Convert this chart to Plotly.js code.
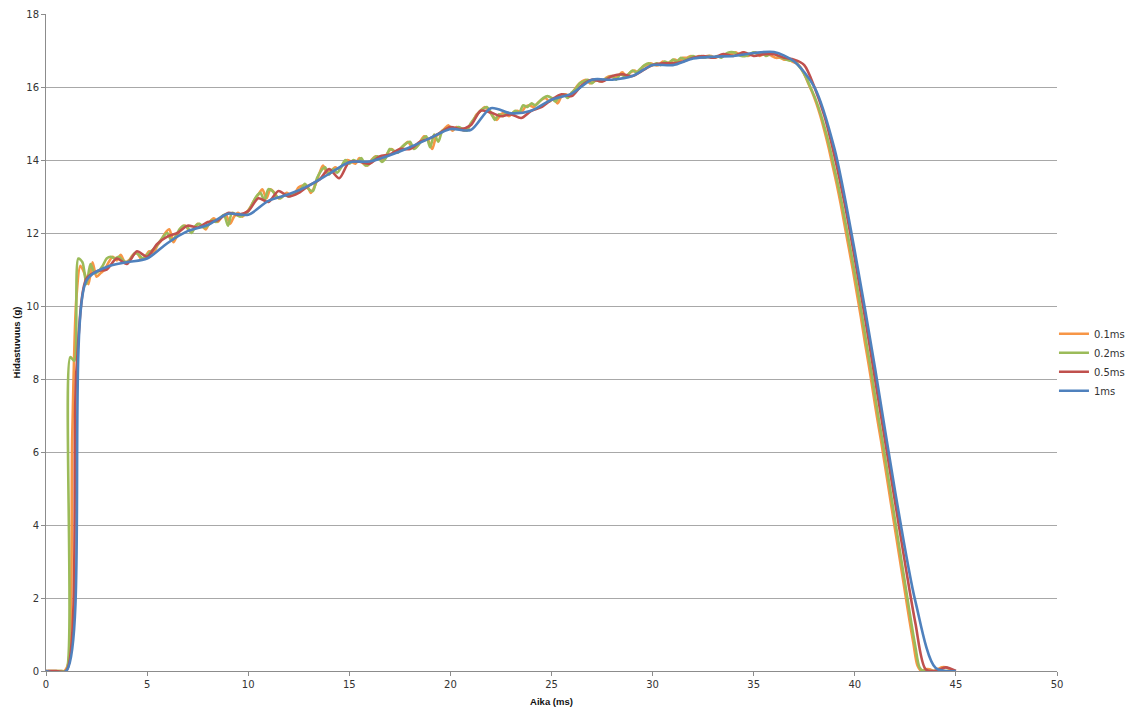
<!DOCTYPE html>
<html>
<head>
<meta charset="utf-8">
<script src="https://cdn.plot.ly/plotly-3.0.1.min.js"></script>
<style>html,body{margin:0;padding:0;background:#fff;}#chart{width:1144px;height:711px;}</style>
</head>
<body>
<div id="chart"></div>
<script>
// Series names
const seriesNames = ["0.1ms", "0.2ms", "0.5ms", "1ms"];
const seriesColors = ["#F79646", "#9BBB59", "#C0504D", "#4F81BD"];

// 0.1ms series, sample times start 0.1 ms, every 0.2 ms
const orangeStart = 0.1, orangeStep = 0.2;
const orangeValues = [
  0,0,0,0,0,0.2,6.5,10.2,11.1,10.9,
  10.6,11.2,10.8,10.9,11.0,11.2,11.35,11.25,11.4,11.2,
  11.25,11.4,11.45,11.3,11.35,11.5,11.45,11.65,11.8,12.0,
  12.1,11.75,11.95,12.15,12.2,12.05,12.1,12.25,12.2,12.1,
  12.3,12.4,12.3,12.45,12.5,12.25,12.45,12.55,12.45,12.55,
  12.7,12.9,13.05,13.2,12.95,13.2,13.1,12.95,13.0,13.1,
  13.05,13.1,13.25,13.3,13.3,13.1,13.3,13.6,13.85,13.65,
  13.7,13.8,13.75,13.9,14.0,13.95,13.9,14.05,13.9,13.85,
  14.0,14.1,14.05,14.0,14.2,14.3,14.2,14.3,14.4,14.5,
  14.35,14.35,14.5,14.65,14.55,14.3,14.65,14.75,14.85,14.95,
  14.8,14.9,14.85,14.8,14.9,15.05,15.25,15.35,15.45,15.35,
  15.2,15.1,15.25,15.3,15.2,15.3,15.35,15.3,15.45,15.5,
  15.45,15.55,15.65,15.7,15.6,15.7,15.55,15.75,15.8,15.75,
  15.9,16.05,16.15,16.2,16.1,16.15,16.2,16.15,16.25,16.3,
  16.25,16.3,16.4,16.3,16.4,16.45,16.4,16.55,16.6,16.65,
  16.6,16.6,16.7,16.65,16.7,16.75,16.7,16.8,16.8,16.85,
  16.8,16.85,16.8,16.85,16.85,16.8,16.85,16.85,16.9,16.9,
  16.95,16.9,16.95,16.85,16.9,16.95,16.85,16.9,16.9,16.85,
  16.8,16.8,16.75,16.75,16.7,16.65,16.55,16.35,16.1,15.85,
  15.55,15.2,14.8,14.35,13.85,13.35,12.8,12.2,11.6,11.0,
  10.35,9.7,9.0,8.35,7.65,6.95,6.3,5.6,4.9,4.2,
  3.5,2.8,2.1,1.4,0.75,0.15,0,0.05,0.05,0,
  0.05,0.1,0.1,0.05,0
];

// 0.2ms series, sample times start 0 ms, every 0.2 ms
const greenStart = 0, greenStep = 0.2;
const greenValues = [
  0,0,0,0,0,0,8.6,8.5,11.3,11.2,
  10.6,11.15,10.9,10.95,11.1,11.3,11.35,11.3,11.35,11.25,
  11.2,11.3,11.45,11.4,11.3,11.4,11.5,11.6,11.75,11.9,
  12.0,11.8,11.9,12.1,12.2,12.15,12.0,12.2,12.25,12.15,
  12.2,12.35,12.3,12.4,12.5,12.2,12.55,12.5,12.45,12.5,
  12.6,12.8,13.0,13.1,12.9,13.2,13.15,13.0,12.95,13.05,
  13.0,13.05,13.1,13.2,13.35,13.2,13.15,13.5,13.7,13.8,
  13.6,13.75,13.65,13.8,14.0,13.9,14.0,13.95,14.05,13.85,
  13.9,14.05,14.1,13.95,14.05,14.3,14.25,14.2,14.35,14.45,
  14.5,14.3,14.4,14.55,14.65,14.35,14.7,14.5,14.8,14.85,
  14.9,14.85,14.9,14.85,14.8,15.0,15.15,15.3,15.4,15.45,
  15.3,15.1,15.25,15.2,15.3,15.25,15.35,15.3,15.5,15.45,
  15.55,15.5,15.6,15.7,15.75,15.7,15.6,15.75,15.8,15.7,
  15.85,15.95,16.1,16.15,16.2,16.1,16.2,16.15,16.2,16.25,
  16.3,16.2,16.35,16.3,16.35,16.45,16.4,16.5,16.6,16.65,
  16.6,16.65,16.6,16.7,16.65,16.75,16.7,16.8,16.75,16.8,
  16.85,16.8,16.85,16.8,16.85,16.8,16.85,16.8,16.9,16.95,
  16.95,16.9,16.85,16.85,16.9,16.95,16.9,16.95,16.85,16.9,
  16.95,16.85,16.8,16.75,16.72,16.72,16.6,16.45,16.25,16.0,
  15.75,15.45,15.1,14.7,14.25,13.75,13.25,12.7,12.1,11.5,
  10.9,10.25,9.6,8.9,8.25,7.55,6.85,6.2,5.5,4.8,
  4.1,3.4,2.7,2.0,1.3,0.65,0.1,0,0,0,
  0,0,0,0,0,0
];

// 0.5ms series, sample times start 0 ms, every 0.5 ms
const redStart = 0, redStep = 0.5;
const redValues = [
  0,0,0,8.2,10.75,10.95,11.0,11.3,11.15,11.5,
  11.35,11.7,11.9,12.0,12.2,12.15,12.3,12.35,12.55,12.5,
  12.6,12.95,12.85,13.15,13.0,13.1,13.3,13.45,13.75,13.5,
  13.95,13.95,13.9,14.1,14.15,14.3,14.3,14.5,14.6,14.75,
  14.9,14.85,14.95,15.35,15.3,15.2,15.25,15.15,15.35,15.45,
  15.65,15.8,15.75,16.05,16.2,16.15,16.3,16.35,16.3,16.45,
  16.6,16.65,16.65,16.7,16.8,16.85,16.8,16.9,16.85,16.95,
  16.85,16.9,16.9,16.8,16.75,16.6,16.0,15.2,14.1,12.8,
  11.3,9.7,8.0,6.3,4.6,2.9,1.3,0.05,0.0,0.1,
  0
];

// 1ms series, sample times start 0 ms, every 1 ms
const blueStart = 0, blueStep = 1;
const blueValues = [
  0,0,10.7,11.07,11.2,11.3,11.72,12.05,12.22,12.53,
  12.5,12.88,13.06,13.3,13.62,13.94,13.96,14.13,14.35,14.6,
  14.85,14.82,15.42,15.28,15.35,15.65,15.82,16.2,16.2,16.3,
  16.6,16.6,16.78,16.83,16.85,16.93,16.96,16.7,16.0,14.3,
  11.5,8.3,4.9,1.9,0.08,0
];

const xTicks = [0,5,10,15,20,25,30,35,40,45,50];
const yTicks = [0,2,4,6,8,10,12,14,16,18];
const xTitle = "Aika (ms)";
const yTitle = "Hidastuvuus (g)";

function times(start, step, n) {
  const t = [];
  for (let i = 0; i < n; i++) t.push(+(start + i * step).toFixed(2));
  return t;
}

const sets = [
  [orangeStart, orangeStep, orangeValues],
  [greenStart, greenStep, greenValues],
  [redStart, redStep, redValues],
  [blueStart, blueStep, blueValues]
];

const traces = sets.map((s, i) => ({
  type: "scatter",
  mode: "lines",
  name: seriesNames[i],
  x: times(s[0], s[1], s[2].length),
  y: s[2],
  line: {color: seriesColors[i], width: 2.6, shape: "spline", smoothing: 0.8},
  hoverinfo: "x+y+name"
}));

const tickFont = {family: "DejaVu Sans, Verdana, sans-serif", size: 10, color: "#333"};
const titleFont = {family: "Liberation Sans, Arial, sans-serif", size: 9.5, color: "#111", weight: "bold"};

const layout = {
  width: 1144,
  height: 711,
  margin: {l: 46, r: 87, t: 14, b: 40},
  paper_bgcolor: "#fff",
  plot_bgcolor: "#fff",
  showlegend: true,
  legend: {
    x: 0.997, xanchor: "left", y: 0.47, yanchor: "middle",
    font: {family: "DejaVu Sans, Verdana, sans-serif", size: 10, color: "#333"},
    bgcolor: "rgba(0,0,0,0)", tracegroupgap: 0, itemwidth: 30
  },
  xaxis: {
    range: [0, 50],
    tickvals: xTicks,
    ticktext: xTicks.map(String),
    showgrid: false,
    zeroline: false,
    showline: true, linecolor: "#8c8c8c", linewidth: 1,
    ticks: "outside", ticklen: 4, tickcolor: "#8c8c8c",
    tickfont: tickFont,
    title: {text: "<b>" + xTitle + "</b>", font: titleFont, standoff: 9}
  },
  yaxis: {
    range: [0, 18],
    tickvals: yTicks,
    ticktext: yTicks.map(String),
    showgrid: true, gridcolor: "#a8a8a8", gridwidth: 1,
    zeroline: false,
    showline: true, linecolor: "#8c8c8c", linewidth: 1,
    ticks: "outside", ticklen: 4, tickcolor: "#8c8c8c",
    tickfont: tickFont,
    title: {text: "<b>" + yTitle + "</b>", font: titleFont, standoff: 3}
  }
};

Plotly.newPlot("chart", traces, layout, {displayModeBar: false, responsive: false});
</script>
</body>
</html>
